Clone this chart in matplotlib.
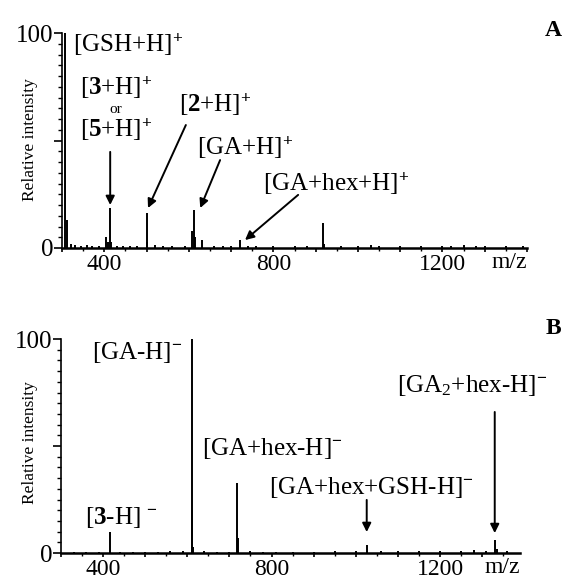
import matplotlib
matplotlib.use("Agg")
import matplotlib.pyplot as plt
from matplotlib.ticker import MultipleLocator, FixedLocator

plt.rcParams['font.family'] = ['Liberation Serif', 'DejaVu Serif']
plt.rcParams['mathtext.fontset'] = 'custom'
plt.rcParams['mathtext.rm'] = 'Liberation Serif'
plt.rcParams['mathtext.it'] = 'Liberation Serif:italic'
plt.rcParams['mathtext.bf'] = 'Liberation Serif:bold'

# ---- data: panel A (positive mode) ----
mz_A = [308, 312, 322, 330, 345, 358, 372, 388, 404, 408, 414, 416, 430, 445, 460, 478,
        500, 502, 520, 540, 560, 590, 608, 612, 614, 630, 660, 680, 700, 721, 740, 760,
        800, 850, 880, 918, 920, 960, 1000, 1030, 1050, 1100, 1150, 1200, 1220, 1250,
        1280, 1300, 1350, 1390]
int_A = [100, 13, 2, 1.5, 1, 1.5, 1, 1, 5, 3, 18.5, 3, 1, 0.8, 1, 1,
         16.4, 3, 1.5, 1, 1, 1, 8, 17.7, 5, 3.5, 1, 1, 0.8, 3.6, 0.8, 1,
         1, 0.8, 0.8, 11.5, 2, 1, 1, 1.2, 0.8, 1, 1, 1, 0.8, 1.5,
         1, 1, 1, 1]

# ---- data: panel B (negative mode) ----
mz_B = [330, 360, 390, 416, 440, 470, 500, 530, 560, 590, 610, 612, 614, 640, 670, 700,
        719, 721, 750, 780, 810, 850, 900, 950, 1000, 1026, 1060, 1100, 1150, 1200,
        1250, 1280, 1310, 1331, 1335, 1360]
int_B = [0.5, 0.5, 0.5, 9.8, 0.5, 0.5, 0.5, 0.5, 0.8, 0.8, 100, 20, 3, 0.8, 0.5, 0.5,
         32.9, 7, 0.8, 0.5, 0.5, 0.5, 0.5, 0.8, 0.8, 3.7, 0.8, 0.8, 0.8, 1,
         1, 1.2, 1, 6, 2, 0.8]

xticks_labeled = [400, 800, 1200]

fig = plt.figure(figsize=(5.64, 5.80), dpi=100)
axA = fig.add_axes([62/564, 1-248/580, (527-62)/564, (248-33)/580])
axB = fig.add_axes([61/564, 1-553/580, (520-61)/564, (553-339)/580])

def style(ax, xmax):
    ax.set_xlim(300, xmax)
    ax.set_ylim(0, 100)
    for s in ['top', 'right']:
        ax.spines[s].set_visible(False)
    ax.spines['left'].set_linewidth(1.2)
    ax.spines['bottom'].set_linewidth(1.8)
    ax.yaxis.set_major_locator(FixedLocator([0, 50, 100]))
    ax.yaxis.set_minor_locator(MultipleLocator(5))
    ax.set_yticklabels(['0', '', '100'])
    ax.xaxis.set_major_locator(MultipleLocator(100))
    ax.xaxis.set_minor_locator(MultipleLocator(50))
    ax.set_xticklabels([str(int(t)) if int(t) in xticks_labeled else ''
                        for t in ax.get_xticks()])
    ax.tick_params(axis='y', which='major', length=6, width=1.2, labelsize=18, pad=0)
    ax.tick_params(axis='y', which='minor', length=3, width=1.0)
    ax.tick_params(axis='x', which='major', length=3, width=1.2, labelsize=17, pad=1)
    ax.tick_params(axis='x', which='minor', length=2, width=1.0)
    ax.text(1.0, -0.02, 'm/z', transform=ax.transAxes, ha='right', va='top', fontsize=17)

axA.vlines(mz_A, 0, int_A, color='black', lw=1.4)
axB.vlines(mz_B, 0, int_B, color='black', lw=1.4)
style(axA, 1400)
style(axB, 1390)

fs = 18
ap = dict(arrowstyle='-|>', color='black', lw=1.4, mutation_scale=13, shrinkA=0, shrinkB=0)

# panel A annotations
axA.text(326, 94.4, r'[GSH+H]$^{\mathbf{+}}$', fontsize=fs, ha='left', va='center')
axA.text(428, 74.4, r'[$\mathbf{3}$+H]$^{\mathbf{+}}$', fontsize=fs, ha='center', va='center')
axA.text(428, 64.2, 'or', fontsize=11, ha='center', va='center')
axA.text(428, 54.9, r'[$\mathbf{5}$+H]$^{\mathbf{+}}$', fontsize=fs, ha='center', va='center')
axA.annotate('', xy=(414, 20), xytext=(414, 44.7), arrowprops=ap)
axA.text(662, 66.5, r'[$\mathbf{2}$+H]$^{\mathbf{+}}$', fontsize=fs, ha='center', va='center')
axA.annotate('', xy=(503.5, 18.6), xytext=(593, 57.2), arrowprops=ap)
axA.text(733, 46.5, r'[GA+H]$^{\mathbf{+}}$', fontsize=fs, ha='center', va='center')
axA.annotate('', xy=(627, 18.6), xytext=(674, 40.9), arrowprops=ap)
axA.text(776, 30.2, r'[GA+hex+H]$^{\mathbf{+}}$', fontsize=fs, ha='left', va='center')
axA.annotate('', xy=(733, 3.7), xytext=(858.6, 24.7), arrowprops=ap)

# panel B annotations
axB.text(373.6, 93.5, r'[GA-H]$^{\mathbf{-}}$', fontsize=fs, ha='left', va='center')
axB.text(357, 16.8, r'[$\mathbf{3}$-H] $^{\mathbf{-}}$', fontsize=fs, ha='left', va='center')
axB.text(634.7, 48.6, r'[GA+hex-H]$^{\mathbf{-}}$', fontsize=fs, ha='left', va='center')
axB.text(793.8, 30.8, r'[GA+hex+GSH-H]$^{\mathbf{-}}$', fontsize=fs, ha='left', va='center')
axB.annotate('', xy=(1026, 9.8), xytext=(1026, 24.8), arrowprops=ap)
axB.text(1097.6, 78.5, r'[GA$_2$+hex-H]$^{\mathbf{-}}$', fontsize=fs, ha='left', va='center')
axB.annotate('', xy=(1330, 9.3), xytext=(1330, 65.9), arrowprops=ap)

# axis titles and panel letters
fig.text(30/564, 1-140/580, 'Relative intensity', rotation=90, ha='center', va='center', fontsize=12.5)
fig.text(30/564, 1-443/580, 'Relative intensity', rotation=90, ha='center', va='center', fontsize=12.5)
fig.text(553/564, 1-30/580, 'A', ha='center', va='center', fontsize=17, fontweight='bold')
fig.text(553/564, 1-328/580, 'B', ha='center', va='center', fontsize=17, fontweight='bold')

fig.savefig('out.png', dpi=100)
